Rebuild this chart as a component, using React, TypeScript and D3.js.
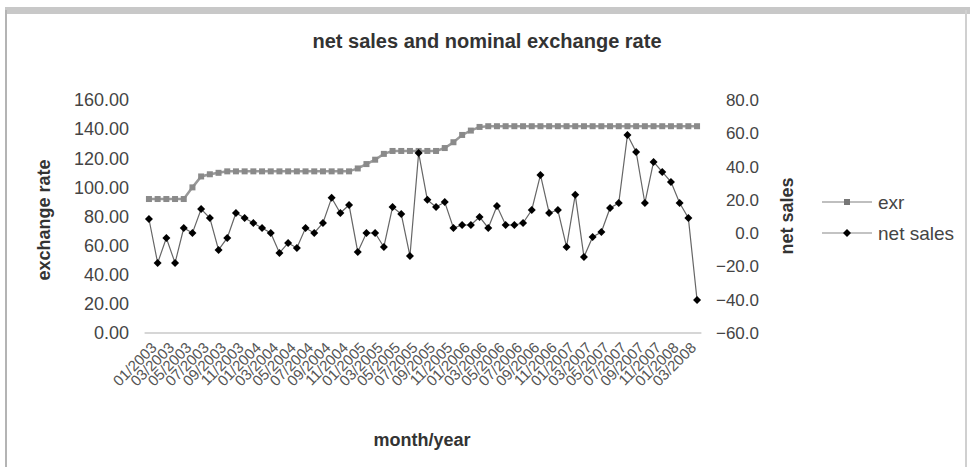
import React from "react";
import * as d3 from "d3";

const months: string[] = [
  "01/2003","02/2003","03/2003","04/2003","05/2003","06/2003","07/2003","08/2003","09/2003","10/2003","11/2003","12/2003",
  "01/2004","02/2004","03/2004","04/2004","05/2004","06/2004","07/2004","08/2004","09/2004","10/2004","11/2004","12/2004",
  "01/2005","02/2005","03/2005","04/2005","05/2005","06/2005","07/2005","08/2005","09/2005","10/2005","11/2005","12/2005",
  "01/2006","02/2006","03/2006","04/2006","05/2006","06/2006","07/2006","08/2006","09/2006","10/2006","11/2006","12/2006",
  "01/2007","02/2007","03/2007","04/2007","05/2007","06/2007","07/2007","08/2007","09/2007","10/2007","11/2007","12/2007",
  "01/2008","02/2008","03/2008","04/2008",
];

const exr: number[] = [
  92, 92, 92, 92, 92, 100, 107.5, 109, 110, 111,
  111, 111, 111, 111, 111, 111, 111, 111, 111, 111,
  111, 111, 111, 111, 113, 116, 119, 123, 125, 125,
  125, 125, 125, 125, 127, 131, 136, 139, 141.5, 142,
  142, 142, 142, 142, 142, 142, 142, 142, 142, 142,
  142, 142, 142, 142, 142, 142, 142, 142, 142, 142,
  142, 142, 142, 142,
];

const netSales: number[] = [
  8.5, -17.9, -2.9, -17.9, 3.1, 0.1, 14.5, 9.1, -10.1, -2.9,
  12.1, 9.1, 6.1, 3.1, 0.1, -11.9, -5.9, -8.9, 3.1, 0.1,
  6.1, 21.2, 12.1, 16.9, -11.3, 0.1, 0.1, -8.3, 15.7, 11.5,
  -13.7, 48.2, 20, 15.7, 18.7, 3.1, 4.9, 4.9, 9.7, 3.1,
  16.3, 4.9, 4.9, 6.1, 13.9, 35, 12.1, 13.9, -8.3, 23,
  -14.3, -2.3, 0.7, 15.1, 18.1, 59, 48.8, 18.1, 42.8, 36.8,
  30.8, 18.1, 9.1, -40.2,
];

const leftTicks: number[] = [0, 20, 40, 60, 80, 100, 120, 140, 160];
const rightTicks: number[] = [-60, -40, -20, 0, 20, 40, 60, 80];

const title = "net sales and nominal exchange rate";
const seriesNames = ["exr", "net sales"];

const FONT = "'Liberation Sans', Arial, sans-serif";

export default function App() {
  const W = 970, H = 467;
  const plotL = 144.6, plotR = 701.4, plotT = 100, plotB = 333;

  const x = d3.scalePoint<string>().domain(months).range([plotL, plotR]).padding(0.5);
  const yL = d3.scaleLinear().domain([0, 160]).range([plotB, plotT]);
  const yR = d3.scaleLinear().domain([-60, 80]).range([plotB, plotT]);

  const exrLine = d3.line<number>().x((_, i) => x(months[i])!).y((d) => yL(d));
  const nsLine = d3.line<number>().x((_, i) => x(months[i])!).y((d) => yR(d));

  const diamond = (cx: number, cy: number, r: number) =>
    `M${cx},${cy - r}L${cx + r},${cy}L${cx},${cy + r}L${cx - r},${cy}Z`;

  const fmtL = d3.format(".2f");
  const fmtR = d3.format(".1f");

  return (
    <svg width={W} height={H} style={{ position: "absolute", left: 0, top: 0, background: "#fff" }} fontFamily={FONT}>
      {/* chart frame */}
      <rect x={5} y={7} width={965} height={7} fill="#c8c8c8" />
      <line x1={6} y1={10} x2={6} y2={H} stroke="#b4b4b4" strokeWidth={2} />
      <line x1={966} y1={10} x2={966} y2={H} stroke="#d0d0d0" strokeWidth={2} />

      {/* title */}
      <text x={487} y={48} textAnchor="middle" fontSize={20} fontWeight="bold" fill="#333">{title}</text>

      {/* x axis line */}
      <line x1={plotL} y1={plotB} x2={plotR} y2={plotB} stroke="#c8c8c8" strokeWidth={1.5} />

      {/* left ticks */}
      {leftTicks.map((t) => (
        <text key={"l" + t} x={129} y={yL(t)} dy="0.35em" textAnchor="end" fontSize={18} fill="#444">{fmtL(t)}</text>
      ))}
      {/* right ticks */}
      {rightTicks.map((t) => (
        <text key={"r" + t} x={759} y={yR(t)} dy="0.35em" textAnchor="end" fontSize={17} fill="#444">{fmtR(t)}</text>
      ))}

      {/* x tick labels */}
      {months.map((m, i) =>
        i % 2 === 0 ? (
          <text key={m} transform={`translate(${x(m)! + 5},${plotB + 12}) rotate(-45)`} textAnchor="end" dy="0.35em" fontSize={15} fill="#555">{m}</text>
        ) : null
      )}

      {/* axis titles */}
      <text transform={`translate(50,220) rotate(-90)`} textAnchor="middle" fontSize={18} fontWeight="bold" fill="#333">exchange rate</text>
      <text transform={`translate(793,216) rotate(-90)`} textAnchor="middle" fontSize={18} fontWeight="bold" fill="#333">net sales</text>
      <text x={422} y={446} textAnchor="middle" fontSize={18} fontWeight="bold" fill="#333">month/year</text>

      {/* exr series */}
      <path d={exrLine(exr)!} fill="none" stroke="#999" strokeWidth={2.5} />
      {exr.map((v, i) => (
        <rect key={"e" + i} x={x(months[i])! - 3} y={yL(v) - 3} width={6} height={6} fill="#8a8a8a" />
      ))}

      {/* net sales series */}
      <path d={nsLine(netSales)!} fill="none" stroke="#666" strokeWidth={1.2} />
      {netSales.map((v, i) => (
        <path key={"n" + i} d={diamond(x(months[i])!, yR(v), 4)} fill="#000" />
      ))}

      {/* legend */}
      <line x1={822} y1={202} x2={872} y2={202} stroke="#aaa" strokeWidth={1.5} />
      <rect x={844} y={199} width={6} height={6} fill="#777" />
      <text x={878} y={202} dy="0.35em" fontSize={19} fill="#444">{seriesNames[0]}</text>
      <line x1={822} y1={233} x2={872} y2={233} stroke="#888" strokeWidth={1.2} />
      <path d={diamond(847, 233, 4)} fill="#000" />
      <text x={878} y={233} dy="0.35em" fontSize={19} fill="#444">{seriesNames[1]}</text>
    </svg>
  );
}
